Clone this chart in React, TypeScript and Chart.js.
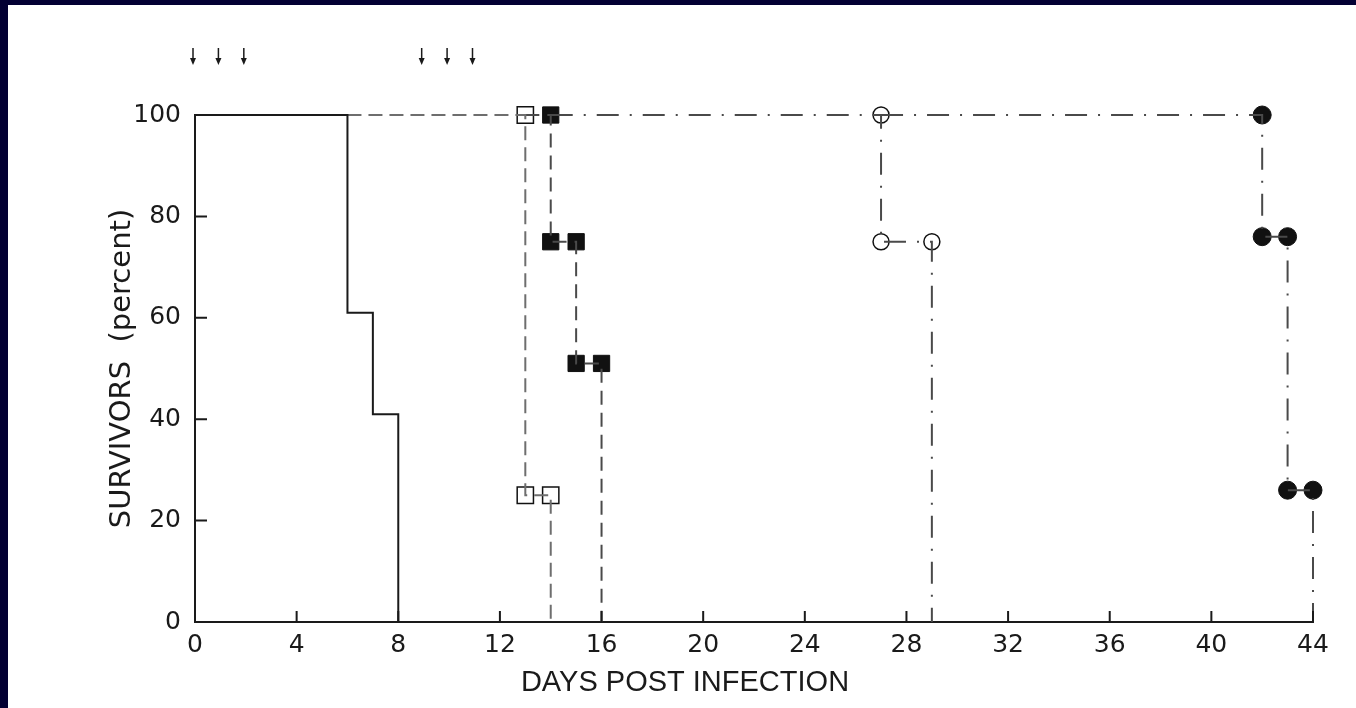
import React, { useEffect, useRef } from 'react';
import { Chart, registerables } from 'chart.js';

Chart.register(...registerables);

// ---- axis ticks ----
const xTickValues = [0, 4, 8, 12, 16, 20, 24, 28, 32, 36, 40, 44];
const yTickValues = [0, 20, 40, 60, 80, 100];

// ---- control group (solid step line, no symbols) ----
const controlDays = [0, 6, 7, 8];
const controlSurvivors = [100, 61, 41, 0];

// ---- open squares ----
const openSquareLineDays = [6, 13, 14];
const openSquareLineSurvivors = [100, 25, 0];
const openSquareDays = [13, 13, 14];
const openSquareSurvivors = [100, 25, 25];

// ---- filled squares ----
const filledSquareLineDays = [13, 14, 15, 16];
const filledSquareLineSurvivors = [100, 75, 51, 0];
const filledSquareDays = [14, 14, 15, 15, 16];
const filledSquareSurvivors = [100, 75, 75, 51, 51];

// ---- open circles ----
const openCircleLineDays = [14, 27, 29];
const openCircleLineSurvivors = [100, 75, 0];
const openCircleDays = [27, 27, 29];
const openCircleSurvivors = [100, 75, 75];

// ---- filled circles ----
const filledCircleLineDays = [27, 42, 43, 44];
const filledCircleLineSurvivors = [100, 76, 26, 0];
const filledCircleDays = [42, 42, 43, 43, 44];
const filledCircleSurvivors = [100, 76, 76, 26, 26];

// ---- treatment days (arrows above the plot) ----
const treatmentDays = [0, 1, 2, 9, 10, 11];

const pts = (xs: number[], ys: number[]) => xs.map((x, i) => ({ x, y: ys[i] }));

const INK = '#1a1a1a';
const DASH_INK = '#4a4a4a';

const stepLine = (xs: number[], ys: number[], color: string, dash: number[]) => ({
  data: pts(xs, ys),
  stepped: 'before' as const,
  borderColor: color,
  borderWidth: 2,
  borderDash: dash,
  pointRadius: 0,
  fill: false,
  clip: 4,
});

const markers = (xs: number[], ys: number[], style: string, radius: number, filled: boolean) => ({
  data: pts(xs, ys),
  showLine: false,
  pointStyle: style,
  pointRadius: radius,
  pointBackgroundColor: filled ? '#111' : '#fff',
  pointBorderColor: '#111',
  pointBorderWidth: filled ? 1 : 1.5,
  clip: false,
});

const decorations = {
  id: 'decorations',
  afterDatasetsDraw(chart: any) {
    const { ctx, chartArea, scales } = chart;
    const x = scales.x;
    const y = scales.y;
    ctx.save();
    ctx.strokeStyle = INK;
    ctx.lineWidth = 2;
    ctx.beginPath();
    xTickValues.forEach((v) => {
      if (v === 0) return;
      const px = x.getPixelForValue(v);
      ctx.moveTo(px, chartArea.bottom);
      ctx.lineTo(px, chartArea.bottom - 11);
    });
    yTickValues.forEach((v) => {
      if (v === 0 || v === 100) return;
      const py = y.getPixelForValue(v);
      ctx.moveTo(chartArea.left, py);
      ctx.lineTo(chartArea.left + 12, py);
    });
    ctx.stroke();

    // treatment arrows
    ctx.fillStyle = INK;
    ctx.lineWidth = 1.5;
    treatmentDays.forEach((d) => {
      const px = x.getPixelForValue(d) - 2;
      const yTop = chartArea.top - 67;
      const yTip = chartArea.top - 50;
      ctx.beginPath();
      ctx.moveTo(px, yTop);
      ctx.lineTo(px, yTip - 4);
      ctx.stroke();
      ctx.beginPath();
      ctx.moveTo(px - 3, yTip - 7);
      ctx.lineTo(px + 3, yTip - 7);
      ctx.lineTo(px, yTip);
      ctx.closePath();
      ctx.fill();
    });
    ctx.restore();
  },
};

export default function App() {
  const canvasRef = useRef<HTMLCanvasElement | null>(null);

  useEffect(() => {
    if (!canvasRef.current) return;
    const chart = new Chart(canvasRef.current, {
      type: 'line',
      data: {
        datasets: [
          stepLine(controlDays, controlSurvivors, INK, []),
          stepLine(openSquareLineDays, openSquareLineSurvivors, '#6e6e6e', [14, 7]),
          stepLine(filledSquareLineDays, filledSquareLineSurvivors, DASH_INK, [14, 8]),
          stepLine(openCircleLineDays, openCircleLineSurvivors, DASH_INK, [22, 11, 2, 11]),
          stepLine(filledCircleLineDays, filledCircleLineSurvivors, DASH_INK, [22, 11, 2, 11]),
          markers(openSquareDays, openSquareSurvivors, 'rect', 11.5, false),
          markers(filledSquareDays, filledSquareSurvivors, 'rect', 11.5, true),
          markers(openCircleDays, openCircleSurvivors, 'circle', 8, false),
          markers(filledCircleDays, filledCircleSurvivors, 'circle', 9, true),
        ] as any,
      },
      options: {
        animation: false,
        responsive: false,
        devicePixelRatio: 1,
        events: [],
        layout: { padding: { left: 49, right: 43, top: 110, bottom: 0 } },
        plugins: {
          legend: { display: false },
          tooltip: { enabled: false },
          title: {
            display: true,
            text: 'DAYS POST INFECTION',
            position: 'bottom',
            color: INK,
            font: { family: 'Liberation Sans', size: 29, weight: 'normal' },
            padding: { top: 0, bottom: 7.6 },
          },
        },
        scales: {
          x: {
            type: 'linear',
            min: 0,
            max: 44,
            afterFit: (s: any) => {
              s.height = 43.6;
            },
            ticks: {
              stepSize: 4,
              padding: 8,
              color: INK,
              font: { family: 'DejaVu Sans', size: 25 },
              callback: (v: any) => (xTickValues.includes(Number(v)) ? String(v) : ''),
            },
            grid: { display: false, drawTicks: false },
            border: { display: true, color: INK, width: 2 },
          },
          y: {
            type: 'linear',
            min: 0,
            max: 100,
            afterFit: (s: any) => {
              s.width = 138;
            },
            ticks: {
              stepSize: 20,
              padding: 14,
              color: INK,
              font: { family: 'DejaVu Sans', size: 25 },
              callback: (v: any) => (yTickValues.includes(Number(v)) ? String(v) : ''),
            },
            grid: { display: false, drawTicks: false },
            border: { display: true, color: INK, width: 2 },
            title: {
              display: true,
              text: 'SURVIVORS  (percent)',
              color: INK,
              font: { family: 'DejaVu Sans', size: 29 },
              padding: { top: 48, bottom: 0 },
            },
          },
        },
      } as any,
      plugins: [decorations],
    });
    return () => chart.destroy();
  }, []);

  return (
    <div
      style={{
        position: 'fixed',
        left: 0,
        top: 0,
        width: '1356px',
        height: '708px',
        background: '#030033',
        overflow: 'hidden',
      }}
    >
      <div style={{ position: 'absolute', left: '8px', top: '5px', width: '1348px', height: '703px', background: '#fff' }}>
        <canvas ref={canvasRef} width={1348} height={703} style={{ display: 'block' }} />
      </div>
    </div>
  );
}
